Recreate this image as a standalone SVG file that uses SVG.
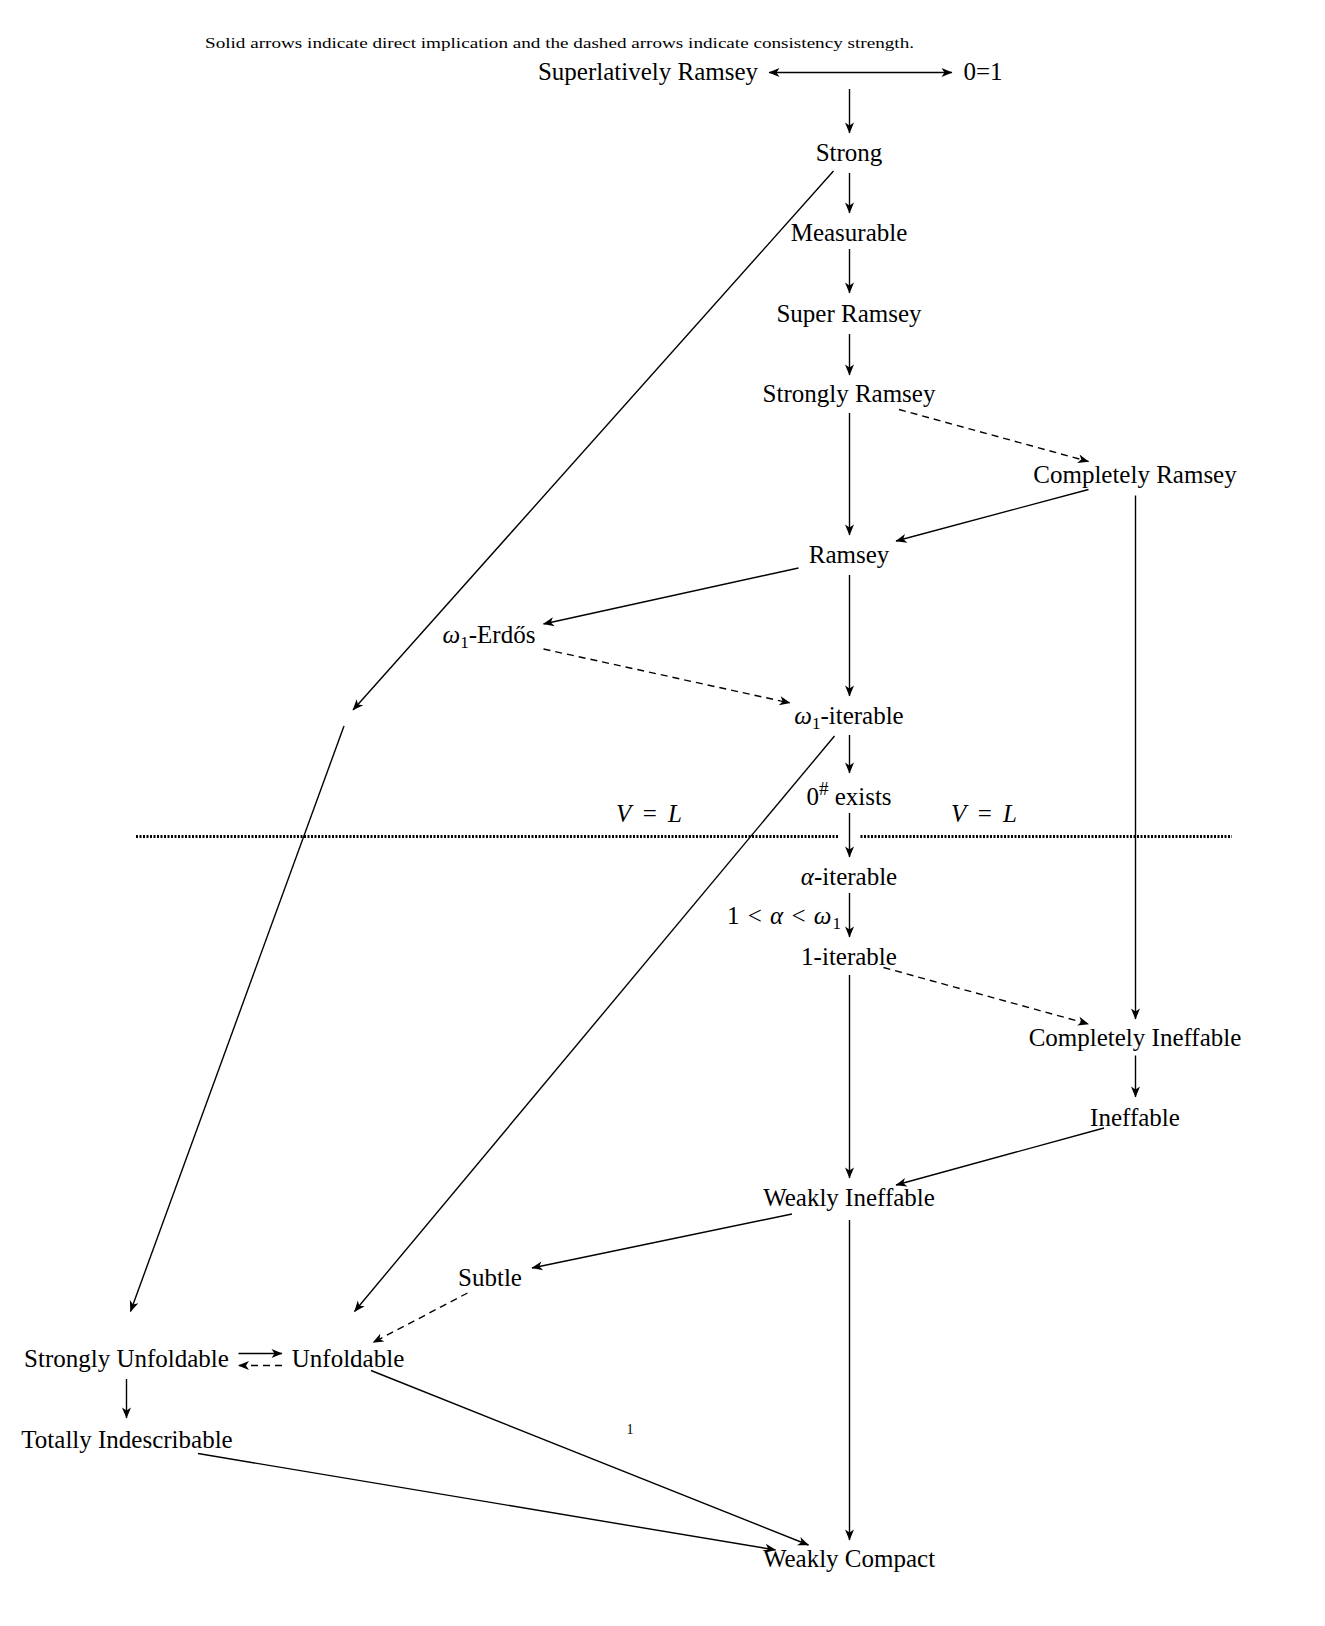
<svg xmlns="http://www.w3.org/2000/svg" width="1325" height="1626" viewBox="0 0 1325 1626">
<defs>
<style>
.n{font-family:"Liberation Serif","Times New Roman",serif;font-size:25px;fill:#000;text-anchor:middle}
.cap{font-family:"Liberation Serif","Times New Roman",serif;font-size:14px;fill:#000}
.e{stroke:#000;stroke-width:1.4;fill:none;marker-end:url(#ah)}
.d{stroke-dasharray:7 5}
.dot{stroke:#000;stroke-width:2.8;stroke-dasharray:2 1.5;fill:none}
.it{font-style:italic}
</style>
<marker id="ah" viewBox="-12 -6 13 12" refX="0" refY="0" markerWidth="13" markerHeight="12" markerUnits="userSpaceOnUse" orient="auto-start-reverse">
<path d="M0.5,0 L-10.5,-4.5 L-7.5,0 L-10.5,4.5 Z" fill="#000"/>
</marker>
</defs>
<rect width="1325" height="1626" fill="#fff"/>
<text class="cap" x="205" y="48" textLength="709" lengthAdjust="spacingAndGlyphs">Solid arrows indicate direct implication and the dashed arrows indicate consistency strength.</text>
<text class="cap" x="630" y="1434" text-anchor="middle">1</text>

<g id="vl-left"><text class="n" x="616" y="822" style="text-anchor:start" textLength="66"><tspan class="it">V</tspan> = <tspan class="it">L</tspan></text></g>
<g id="vl-right"><text class="n" x="951" y="822" style="text-anchor:start" textLength="66"><tspan class="it">V</tspan> = <tspan class="it">L</tspan></text></g>

<g id="superlatively-ramsey"><text class="n" x="648" y="80">Superlatively Ramsey</text></g>
<g id="zero-one"><text class="n" x="983" y="80">0=1</text></g>
<g id="strong"><text class="n" x="849" y="161">Strong</text></g>
<g id="measurable"><text class="n" x="849" y="241">Measurable</text></g>
<g id="super-ramsey"><text class="n" x="849" y="321.5">Super Ramsey</text></g>
<g id="strongly-ramsey"><text class="n" x="849" y="402">Strongly Ramsey</text></g>
<g id="completely-ramsey"><text class="n" x="1135" y="483">Completely Ramsey</text></g>
<g id="ramsey"><text class="n" x="849" y="563">Ramsey</text></g>
<g id="omega1-erdos"><text class="n" x="489" y="643"><tspan class="it">ω</tspan><tspan font-size="17" dy="5">1</tspan><tspan dy="-5">-Erdős</tspan></text></g>
<g id="omega1-iterable"><text class="n" x="849" y="724"><tspan class="it">ω</tspan><tspan font-size="17" dy="5">1</tspan><tspan dy="-5">-iterable</tspan></text></g>
<g id="zero-sharp"><text class="n" x="849" y="804.5">0<tspan font-size="19" dy="-10">#</tspan><tspan dy="10"> exists</tspan></text></g>
<g id="alpha-iterable"><text class="n" x="849" y="885"><tspan class="it">α</tspan>-iterable</text></g>
<g id="one-iterable"><text class="n" x="849" y="965">1-iterable</text></g>
<g id="completely-ineffable"><text class="n" x="1135" y="1045.5">Completely Ineffable</text></g>
<g id="ineffable"><text class="n" x="1135" y="1125.5">Ineffable</text></g>
<g id="weakly-ineffable"><text class="n" x="849" y="1206">Weakly Ineffable</text></g>
<g id="subtle"><text class="n" x="490" y="1286">Subtle</text></g>
<g id="strongly-unfoldable"><text class="n" x="126.5" y="1366.5">Strongly Unfoldable</text></g>
<g id="unfoldable"><text class="n" x="348" y="1366.5">Unfoldable</text></g>
<g id="totally-indescribable"><text class="n" x="127" y="1447.5">Totally Indescribable</text></g>
<g id="weakly-compact"><text class="n" x="849" y="1567">Weakly Compact</text></g>

<g id="connectors">
<line class="e" x1="769" y1="72.5" x2="952" y2="72.5" marker-start="url(#ah)"/>
<line class="e" x1="849.5" y1="89" x2="849.5" y2="133"/>
<line class="e" x1="849.5" y1="173" x2="849.5" y2="213"/>
<line class="e" x1="849.5" y1="249" x2="849.5" y2="293"/>
<line class="e" x1="849.5" y1="334" x2="849.5" y2="375"/>
<line class="e" x1="849.5" y1="413" x2="849.5" y2="535"/>
<line class="e" x1="849.5" y1="575" x2="849.5" y2="696"/>
<line class="e" x1="849.5" y1="735" x2="849.5" y2="773"/>
<line class="e" x1="849.5" y1="813" x2="849.5" y2="857"/>
<line class="e" x1="849.5" y1="893" x2="849.5" y2="937"/>
<text class="n" x="727" y="924" style="text-anchor:start" textLength="114">1 &lt; <tspan class="it">α</tspan> &lt; <tspan class="it">ω</tspan><tspan font-size="17" dy="5">1</tspan></text>
<line class="e" x1="849.5" y1="975" x2="849.5" y2="1178"/>
<line class="e" x1="849.5" y1="1220" x2="849.5" y2="1540"/>
<line class="e" x1="833.5" y1="171" x2="353" y2="710"/>
<line class="e" x1="344" y1="726" x2="130.5" y2="1311.5"/>
<line class="e" x1="834.5" y1="736" x2="354.5" y2="1311.5"/>
<line class="e d" x1="899" y1="409.5" x2="1088.5" y2="461.5"/>
<line class="e" x1="1088.5" y1="489.5" x2="896" y2="541"/>
<line class="e" x1="798.5" y1="568" x2="543.5" y2="624"/>
<line class="e d" x1="543.5" y1="649" x2="790" y2="703"/>
<line class="e" x1="1135.5" y1="495.5" x2="1135.5" y2="1019"/>
<line class="e d" x1="883.5" y1="967.5" x2="1088.5" y2="1024"/>
<line class="e" x1="1135.5" y1="1055.5" x2="1135.5" y2="1097"/>
<line class="e" x1="1104" y1="1128" x2="896" y2="1185"/>
<line class="e" x1="792" y1="1214" x2="532" y2="1268"/>
<line class="e d" x1="467.5" y1="1293" x2="373" y2="1342.5"/>
<line class="e" x1="238.5" y1="1353.5" x2="282" y2="1353.5"/>
<line class="e d" x1="282" y1="1365.5" x2="238.5" y2="1365.5"/>
<line class="e" x1="126.5" y1="1379" x2="126.5" y2="1418"/>
<line class="e" x1="371" y1="1370.5" x2="808.5" y2="1545"/>
<line class="e" x1="198" y1="1453.5" x2="775.5" y2="1550"/>
<line class="dot" x1="136" y1="836.5" x2="838" y2="836.5"/>
<line class="dot" x1="860.5" y1="836.5" x2="1232" y2="836.5"/>
</g>
</svg>
